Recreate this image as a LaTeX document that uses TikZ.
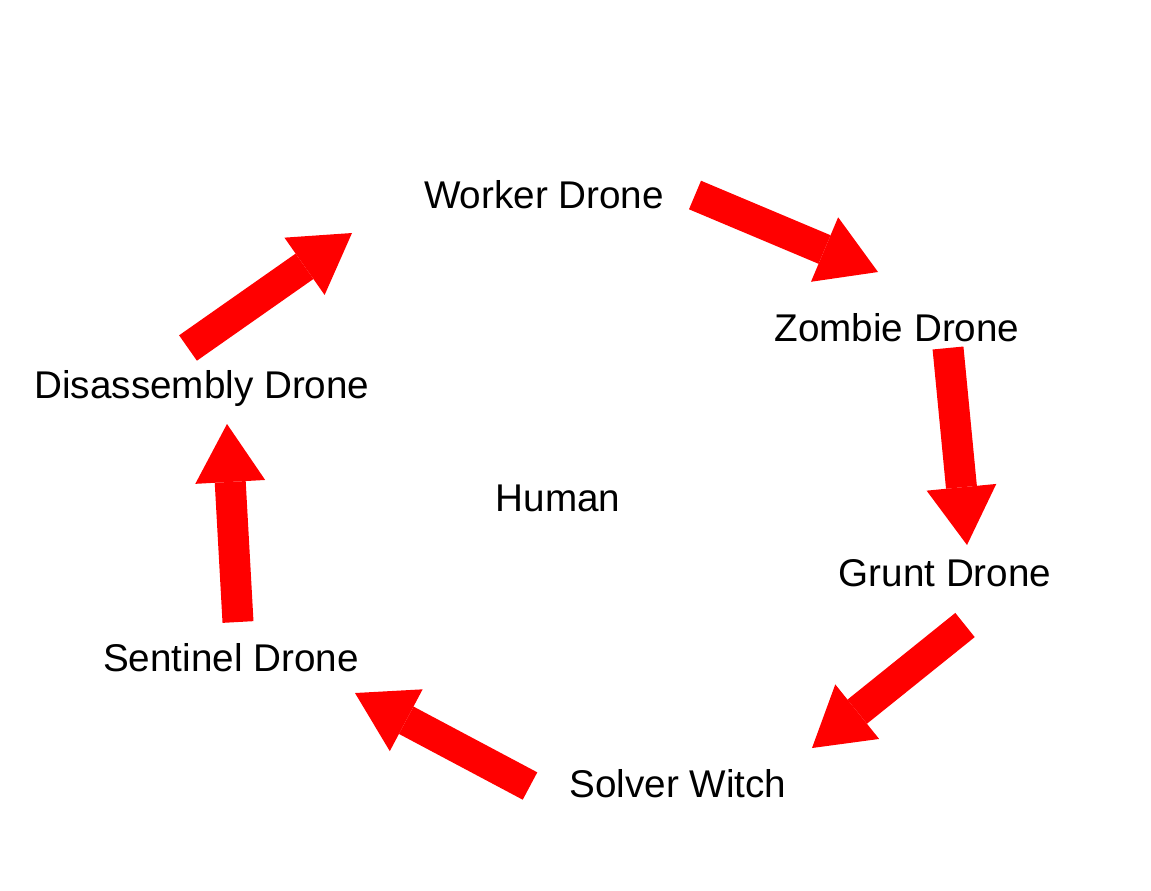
\documentclass[tikz,border=0pt]{standalone}
\usepackage{fontspec}
\setmainfont{Liberation Sans}
\usepackage{tikz}
\usetikzlibrary{arrows.meta}
\tikzset{
	label/.style={anchor=base, inner sep=0pt, font=\fontsize{22}{26}\selectfont},
	bigarrow/.style={red, line width=0.62cm, -{Triangle[length=1.16cm, width=1.4cm, line width=0pt]}}
}

\begin{document}
\begin{tikzpicture}[x=0.02cm, y=-0.02cm]
	\useasboundingbox (0,0) rectangle (1151,890);
	\node[label] (worker) at (544,208) {Worker Drone};
	\node[label] (zombie) at (897,341) {Zombie Drone};
	\node[label] (grunt) at (945,586) {Grunt Drone};
	\node[label] (solver) at (678,797) {Solver Witch};
	\node[label] (sentinel) at (231,671) {Sentinel Drone};
	\node[label] (disassembly) at (202,398) {Disassembly Drone};
	\node[label] (human) at (558,511) {Human};
	% arrow ends
	\coordinate (t1) at (695,195); \coordinate (h1) at (878,272);
	\coordinate (t2) at (948,348); \coordinate (h2) at (967,545);
	\coordinate (t3) at (965,625); \coordinate (h3) at (812,748);
	\coordinate (t4) at (530,786); \coordinate (h4) at (355,693);
	\coordinate (t5) at (238,622); \coordinate (h5) at (227,424);
	\coordinate (t6) at (188,348); \coordinate (h6) at (352,233);
	\path[bigarrow]
	(t1) edge (h1)
	(t2) edge (h2)
	(t3) edge (h3)
	(t4) edge (h4)
	(t5) edge (h5)
	(t6) edge (h6)
	;
\end{tikzpicture}
\end{document}
